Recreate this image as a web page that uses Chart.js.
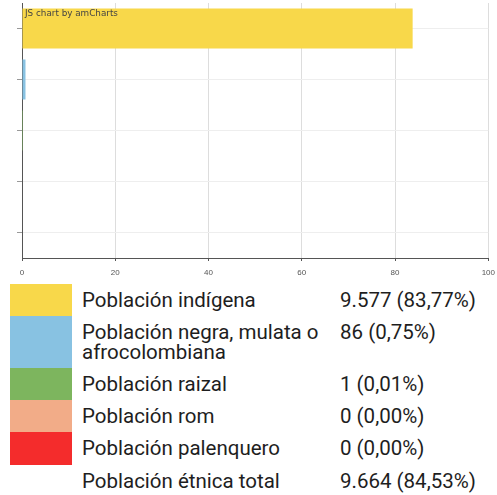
<!DOCTYPE html>
<html lang="es">
<head>
    <meta charset="UTF-8">
    <title>Población étnica</title>
    <script src="https://cdn.jsdelivr.net/npm/chart.js"></script>
    <style>
        body { margin: 0; background: #fff; font-family: Roboto, "Noto Sans", Arial, sans-serif; }
        #wrap { position: relative; width: 497px; height: 280px; overflow: hidden; }
        #credit { position: absolute; left: 25px; top: 8px; font: 8.8px Verdana, "DejaVu Sans", sans-serif; color: #444; }
        table { border-collapse: collapse; margin-left: 10px; margin-top: 4px; }
        td { padding: 0; font-size: 20.5px; color: #1e1e1e; vertical-align: top; line-height: 20px; }
        td.sw { width: 62px; }
        td.name { padding: 6px 0 0 10px; width: 248px; }
        td.val { padding: 6px 0 0 10px; }
    </style>
</head>
<body>

<div id="wrap">
    <canvas id="bars" width="502" height="280"></canvas>
    <div id="credit">JS chart by amCharts</div>
</div>
<table id="legend"></table>

<script>
    const categories = ["Población indígena", "Población negra, mulata o afrocolombiana", "Población raizal", "Población rom", "Población palenquero"];
    const percents = [83.77, 0.75, 0.01, 0, 0];
    const valueLabels = ["9.577 (83,77%)", "86 (0,75%)", "1 (0,01%)", "0 (0,00%)", "0 (0,00%)"];
    const colors = ["#f8d84a", "#88c2e2", "#7db55e", "#f2ac88", "#f42c2c"];
    const totalLabel = "Población étnica total";
    const totalValue = "9.664 (84,53%)";
    const rowHeights = [32, 52, 32, 32, 33, 32];

    const ctx = document.getElementById('bars').getContext('2d');
    new Chart(ctx, {
        type: 'bar',
        data: {
            labels: categories,
            datasets: [{
                data: percents,
                backgroundColor: colors,
                borderWidth: 0,
                categoryPercentage: 1,
                barPercentage: 0.78
            }]
        },
        options: {
            indexAxis: 'y',
            responsive: false,
            animation: false,
            layout: { padding: { top: 3, right: 0, left: 0, bottom: 0 } },
            plugins: { legend: { display: false }, tooltip: { enabled: false } },
            scales: {
                x: {
                    min: 0, max: 100,
                    ticks: { stepSize: 20, font: { size: 8 }, color: '#555', padding: 7 },
                    grid: { color: '#ddd', tickColor: '#555', tickLength: 3 },
                    border: { color: '#555' },
                    afterFit(scale) { scale.height = 22; }
                },
                y: {
                    ticks: { display: false },
                    grid: { color: '#eee', tickColor: '#999', tickLength: 5, offset: false },
                    border: { color: '#555' },
                    afterFit(scale) { scale.width = 22; }
                }
            }
        }
    });

    const table = document.getElementById('legend');
    categories.forEach((name, i) => {
        const tr = document.createElement('tr');
        tr.style.height = rowHeights[i] + 'px';
        tr.innerHTML = '<td class="sw" style="background:' + colors[i] + '"></td>' +
            '<td class="name">' + name + '</td><td class="val">' + valueLabels[i] + '</td>';
        table.appendChild(tr);
    });
    const tr = document.createElement('tr');
    tr.style.height = rowHeights[5] + 'px';
    tr.innerHTML = '<td class="sw"></td><td class="name">' + totalLabel + '</td><td class="val">' + totalValue + '</td>';
    table.appendChild(tr);
</script>

</body>
</html>
